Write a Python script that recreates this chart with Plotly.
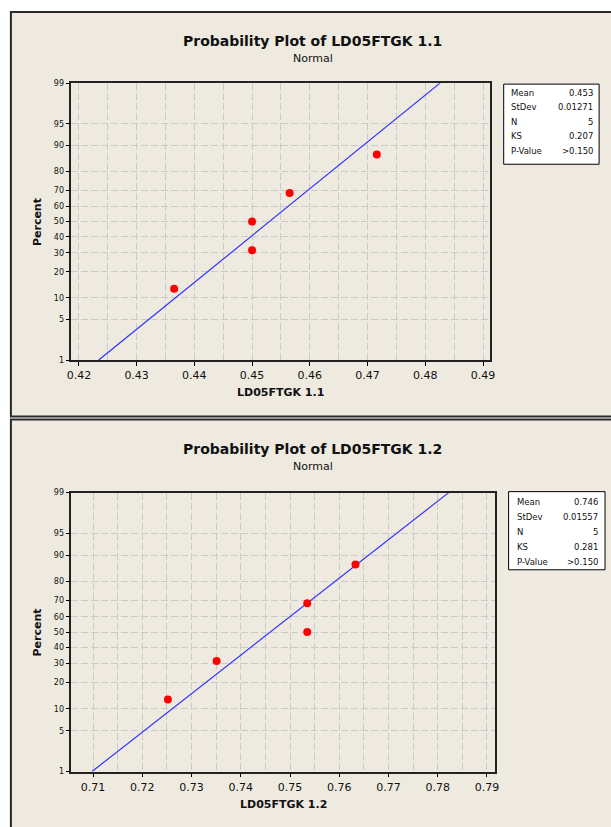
import plotly.graph_objects as go
from statistics import NormalDist

W, H = 611, 827

# ---------------- data ----------------
x1_vals = [0.4365, 0.4500, 0.4500, 0.4565, 0.4716]
x2_vals = [0.7252, 0.7351, 0.7535, 0.7535, 0.7633]
pct_vals = [13.0, 31.5, 50.0, 68.5, 87.0]

stats_labels = ["Mean", "StDev", "N", "KS", "P-Value"]
stats1 = ["0.453", "0.01271", "5", "0.207", ">0.150"]
stats2 = ["0.746", "0.01557", "5", "0.281", ">0.150"]
mean1, sd1 = 0.453, 0.01271
mean2, sd2 = 0.746, 0.01557

ytick_pct = [1, 5, 10, 20, 30, 40, 50, 60, 70, 80, 90, 95, 99]
x1_ticks = [0.42, 0.43, 0.44, 0.45, 0.46, 0.47, 0.48, 0.49]
x2_ticks = [0.71, 0.72, 0.73, 0.74, 0.75, 0.76, 0.77, 0.78, 0.79]

titles = ["Probability Plot of LD05FTGK 1.1", "Probability Plot of LD05FTGK 1.2"]
xtitles = ["LD05FTGK 1.1", "LD05FTGK 1.2"]

nd = NormalDist()
def z(p):
    return nd.inv_cdf(p / 100.0)

zt = [z(p) for p in ytick_pct]
zlo, zhi = z(1), z(99)

FONT = "DejaVu Sans"
BEIGE = "#EEEAE0"
GRID = "#CACACA"
DASH = "7px,3px"

def px(v):
    return v / W
def py(v):
    return 1 - v / H

fig = go.Figure()

panels = [
    dict(x=x1_vals, mean=mean1, sd=sd1, stats=stats1, xt=x1_ticks,
         xr=[0.4187, 0.4912], dom_x=[67.5, 493], dom_y=[80, 360],
         frame=[8, 417], title_y=37, sub_y=55, xlab_y=393,
         box=[507, 81, 604, 162], row0=89.5, step=14.7, lab_x=512, val_x=600, suffix=""),
    dict(x=x2_vals, mean=mean2, sd=sd2, stats=stats2, xt=x2_ticks,
         xr=[0.7056, 0.7916], dom_x=[67.5, 498], dom_y=[494, 776],
         frame=[420, 900], title_y=450, sub_y=468, xlab_y=809,
         box=[512, 493, 610, 572], row0=503.3, step=15.2, lab_x=518, val_x=605, suffix="2"),
]

shapes = []
annotations = []

for i, P in enumerate(panels):
    s = P["suffix"]
    xa, ya = "x" + s, "y" + s
    # frame
    shapes.append(dict(type="rect", xref="paper", yref="paper",
                       x0=px(6), x1=px(680), y0=py(P["frame"][1]), y1=py(P["frame"][0]),
                       fillcolor=BEIGE, line=dict(color="#2a2a2a", width=2), layer="below"))
    # fitted line
    fig.add_trace(go.Scatter(
        x=[P["mean"] + zlo * P["sd"], P["mean"] + zhi * P["sd"]], y=[zlo, zhi],
        mode="lines", line=dict(color="#3333FF", width=1.2),
        xaxis=xa, yaxis=ya, showlegend=False, hoverinfo="skip"))
    # points
    fig.add_trace(go.Scatter(
        x=P["x"], y=[z(p) for p in pct_vals], mode="markers",
        marker=dict(color="#FF0000", size=8, line=dict(width=0)),
        xaxis=xa, yaxis=ya, showlegend=False))

    xkey = "xaxis" + s
    ykey = "yaxis" + s
    fig.layout[xkey] = dict(
        domain=[px(P["dom_x"][0]), px(P["dom_x"][1])], range=P["xr"], anchor=ya,
        tickvals=P["xt"], ticktext=[f"{t:.2f}" for t in P["xt"]],
        ticks="outside", ticklen=4, tickcolor="#000", tickwidth=1,
        showline=True, linecolor="#222", linewidth=1.5, mirror=True,
        showgrid=True, gridcolor=GRID, griddash=DASH, gridwidth=1.2,
        minor=dict(dtick=0.005, tick0=P["xt"][0], showgrid=True, gridcolor=GRID,
                   griddash=DASH, gridwidth=1.2, ticks=""),
        zeroline=False, tickfont=dict(family=FONT, size=11, color="#111"),
        fixedrange=True)
    fig.layout[ykey] = dict(
        domain=[py(P["dom_y"][1]), py(P["dom_y"][0])], range=[zlo, zhi], anchor=xa,
        tickvals=zt, ticktext=[str(p) for p in ytick_pct],
        ticks="outside", ticklen=4, tickcolor="#000", tickwidth=1,
        showline=True, linecolor="#222", linewidth=1.5, mirror=True,
        showgrid=True, gridcolor=GRID, griddash=DASH, gridwidth=1.2,
        zeroline=False, tickfont=dict(family=FONT, size=8, color="#111"),
        fixedrange=True)

    # titles
    annotations.append(dict(text="<b>" + titles[i] + "</b>", x=px(313), y=py(P["title_y"]),
                            xref="paper", yref="paper", showarrow=False,
                            font=dict(family=FONT, size=14, color="#111"),
                            xanchor="center", yanchor="middle"))
    annotations.append(dict(text="Normal", x=px(313), y=py(P["sub_y"]),
                            xref="paper", yref="paper", showarrow=False,
                            font=dict(family=FONT, size=11, color="#111"),
                            xanchor="center", yanchor="middle"))
    annotations.append(dict(text="<b>" + xtitles[i] + "</b>",
                            x=px((P["dom_x"][0] + P["dom_x"][1]) / 2), y=py(P["xlab_y"]),
                            xref="paper", yref="paper", showarrow=False,
                            font=dict(family=FONT, size=11, color="#111"),
                            xanchor="center", yanchor="middle"))
    annotations.append(dict(text="<b>Percent</b>", x=px(33),
                            y=py((P["dom_y"][0] + P["dom_y"][1]) / 2),
                            xref="paper", yref="paper", showarrow=False, textangle=-90,
                            font=dict(family=FONT, size=11, color="#111"),
                            xanchor="center", yanchor="middle"))
    # stats box
    b = P["box"]
    shapes.append(dict(type="rect", xref="paper", yref="paper",
                       x0=px(b[0]), x1=px(b[2]), y0=py(b[3]), y1=py(b[1]),
                       fillcolor="white", line=dict(color="#000", width=1)))
    for r, (lab, val) in enumerate(zip(stats_labels, P["stats"])):
        yy = py(P["row0"] + r * P["step"])
        annotations.append(dict(text=lab, x=px(P["lab_x"]), y=yy, xref="paper", yref="paper",
                                showarrow=False, xanchor="left", yanchor="middle",
                                font=dict(family=FONT, size=8.5, color="#111")))
        annotations.append(dict(text=val, x=px(P["val_x"]), y=yy, xref="paper", yref="paper",
                                showarrow=False, xanchor="right", yanchor="middle",
                                font=dict(family=FONT, size=8.5, color="#111")))

fig.update_layout(
    width=W, height=H, margin=dict(l=0, r=0, t=0, b=0),
    paper_bgcolor="white", plot_bgcolor="white",
    shapes=shapes, annotations=annotations, showlegend=False,
    font=dict(family=FONT),
)

fig.write_html("out.html", config=dict(displayModeBar=False))
